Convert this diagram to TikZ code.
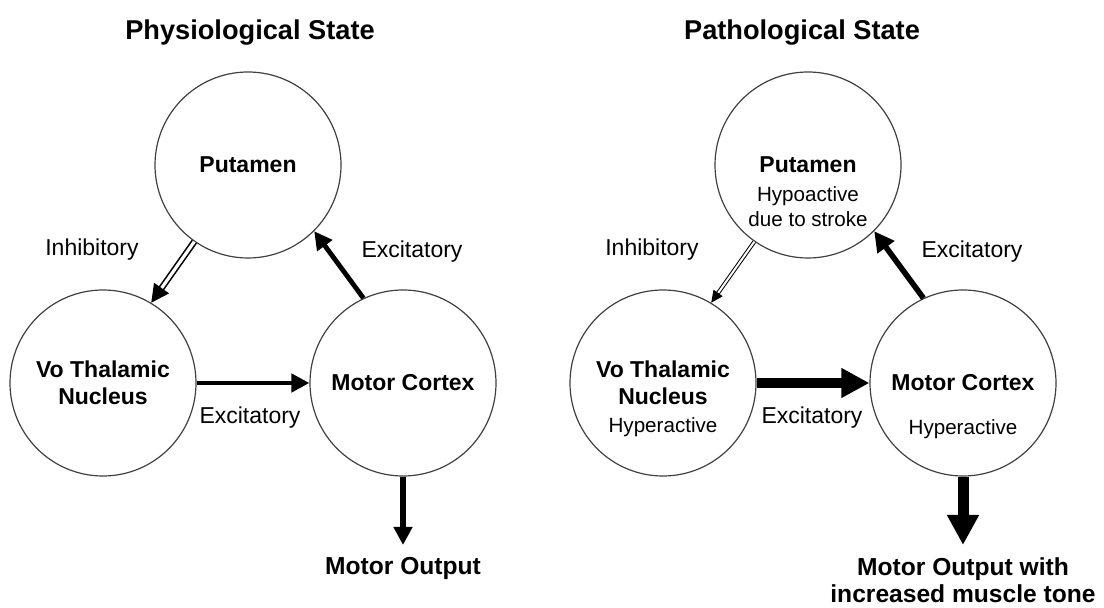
\documentclass[tikz,border=0pt]{standalone}
\usepackage{fontspec}
\setmainfont{Liberation Sans}
\usetikzlibrary{arrows.meta,positioning}

\begin{document}
\begin{tikzpicture}[
   x=0.5pt, y=-0.5pt, >=Triangle,
   region/.style={circle, draw=black!75, line width=0.6pt, minimum size=93pt,
                  inner sep=0pt, align=center,
                  font=\fontsize{11.5}{13.5}\selectfont\bfseries},
   heading/.style={anchor=base, font=\fontsize{13.6}{16}\selectfont\bfseries},
   lbl/.style={anchor=base, font=\fontsize{11.5}{13.5}\selectfont},
   sub/.style={align=center, inner sep=0pt, font=\fontsize{10.3}{12.5}\selectfont},
   outp/.style={anchor=north, align=center, inner sep=6pt,
                font=\fontsize{12.3}{13.5}\selectfont\bfseries},
   inhib/.style={double, line width=0.8pt, double distance=1.6pt,
                 -{Triangle[length=9pt,width=9pt]}},
   excit/.style={line width=2.4pt, -{Triangle[length=9pt,width=9pt]}},
   strong/.style={line width=5pt, -{Triangle[length=14pt,width=14pt]}}]
  \useasboundingbox (0,0) rectangle (1104,608);

  % physiological state
  \node[heading] (t1)   at (250,40)  {Physiological State};
  \node[region]  (put1) at (248,165) {Putamen};
  \node[region]  (vo1)  at (103,383) {Vo Thalamic\\Nucleus};
  \node[region]  (mc1)  at (403,383) {Motor Cortex};
  \node[outp]    (out1) at (403,545) {Motor Output};
  \node[lbl] (inh1)  at (92,256)  {Inhibitory};
  \node[lbl] (exc1a) at (412,258) {Excitatory};
  \node[lbl] (exc1b) at (250,424) {Excitatory};
  \draw[inhib] (put1.235) -- (vo1.59);
  \draw[excit] (mc1.115) -- (put1.-45);
  \draw[excit] (vo1) -- (mc1);
  \draw[excit, line width=3pt] (mc1) -- (out1);

  % pathological state
  \node[heading] (t2)   at (802,40)  {Pathological State};
  \node[region]  (put2) at (808,165) {Putamen};
  \node[region]  (vo2)  at (663,383) {Vo Thalamic\\Nucleus};
  \node[region]  (mc2)  at (963,383) {Motor Cortex};
  \node[outp]    (out2) at (963,545) {Motor Output with\\increased muscle tone};
  \node[sub, anchor=north] (put2s) at (808,186) {Hypoactive\\due to stroke};
  \node[sub, anchor=base]  (vo2s)  at (663,433) {Hyperactive};
  \node[sub, anchor=base]  (mc2s)  at (963,435) {Hyperactive};
  \node[lbl] (inh2)  at (652,256) {Inhibitory};
  \node[lbl] (exc2a) at (972,258) {Excitatory};
  \node[lbl] (exc2b) at (812,424) {Excitatory};
  \draw[inhib, line width=0.5pt, double distance=1pt,
        -{Triangle[length=6pt,width=5.5pt]}] (put2.235) -- (vo2.59);
  \draw[excit, line width=2.8pt, -{Triangle[length=10pt,width=10pt]}] (mc2.115) -- (put2.-45);
  \draw[strong] (vo2) -- (mc2);
  \draw[strong, line width=5.5pt, -{Triangle[length=15pt,width=15pt]}] (mc2) -- (out2);
\end{tikzpicture}
\end{document}
